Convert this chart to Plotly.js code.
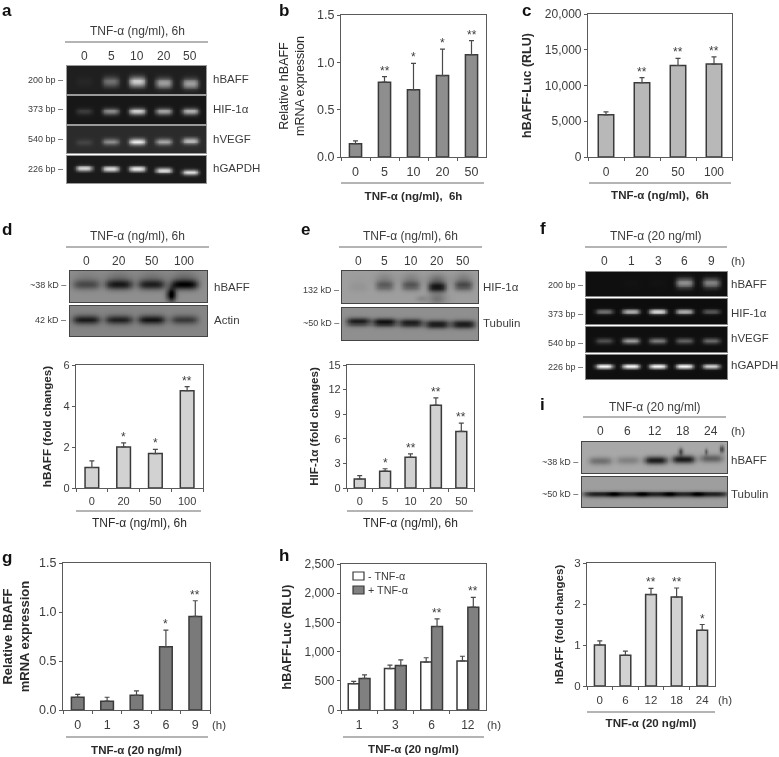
<!DOCTYPE html>
<html><head><meta charset="utf-8">
<script src="https://cdn.plot.ly/plotly-3.0.1.min.js"></script>
<style>html,body{margin:0;padding:0;background:#fff}#chart{width:779px;height:757px;filter:blur(0.45px)}</style>
</head><body><div id="chart"></div>
<script>
// ---------- bar chart data ----------
const bDoses = ['0','5','10','20','50'];
const bMrna = [0.14,0.79,0.71,0.86,1.08];
const bMrnaErr = [0.03,0.06,0.28,0.28,0.15];
const bStars = ['','**','*','*','**'];

const cDoses = ['0','20','50','100'];
const cLuc = [5900,10400,12800,13000];
const cLucErr = [400,700,1000,1000];
const cStars = ['','**','**','**'];

const dDoses = ['0','20','50','100'];
const dFold = [1.0,2.0,1.68,4.75];
const dFoldErr = [0.32,0.2,0.2,0.2];
const dStars = ['','*','*','**'];

const eDoses = ['0','5','10','20','50'];
const eFold = [1.1,2.05,3.75,10.1,6.9];
const eFoldErr = [0.4,0.3,0.4,0.9,1.0];
const eStars = ['','*','**','**','**'];

const gHours = ['0','1','3','6','9'];
const gMrna = [0.13,0.09,0.15,0.645,0.955];
const gMrnaErr = [0.03,0.04,0.045,0.17,0.16];
const gStars = ['','','','*','**'];

const hHours = ['1','3','6','12'];
const hControl = [450,710,820,840];
const hControlErr = [40,60,75,80];
const hTnf = [540,760,1430,1760];
const hTnfErr = [60,100,130,170];
const hStars = ['','','**','**'];
const hNames = ['- TNF-α','+ TNF-α'];

const iHours = ['0','6','12','18','24'];
const iFold = [1.0,0.75,2.23,2.17,1.36];
const iFoldErr = [0.1,0.1,0.15,0.22,0.14];
const iStars = ['','','**','**','*'];

// ---------- gel band strengths per lane ----------
const aBaff = [0.03,0.32,0.68,0.5,0.5];
const aHif = [0.14,0.45,0.72,0.55,0.6];
const aVegf = [0.1,0.38,0.75,0.48,0.55];
const aGapdh = [0.72,0.75,0.8,0.75,0.8];
const dBaff = [-0.25,-0.42,-0.4,-0.5];
const dActin = [-0.42,-0.4,-0.45,-0.3];
const eHif = [-0.03,-0.22,-0.24,-0.44,-0.28];
const eTub = [-0.45,-0.5,-0.45,-0.45,-0.45];
const fBaff = [0,0.01,0.01,0.5,0.45];
const fHif = [0.38,0.62,0.78,0.62,0.28];
const fVegf = [0.25,0.55,0.42,0.32,0.35];
const fGapdh = [0.93,0.93,0.93,0.93,0.78];
const iBaff = [-0.22,-0.15,-0.55,-0.55,-0.28];
const iTub = [-0.5,-0.48,-0.5,-0.48,-0.5];

// ---------- page geometry ----------
const W = 779, H = 757;
const FONT = '"Liberation Sans", Arial, sans-serif';
const INK = '#3c3c3c', FRAME = '#5a5a5a';
const fx = p => p / W, fy = p => 1 - p / H;

const data = [], annotations = [], shapes = [];
const layout = {
  width: W, height: H, margin: {l:0,r:0,t:0,b:0, pad:0},
  paper_bgcolor: '#fff', plot_bgcolor: '#fff',
  font: {family: FONT, color: INK}, showlegend: false,
  barmode: 'group', bargap: 0.4, annotations, shapes
};
let axisCount = 0;
function newAxes() {
  axisCount++;
  const s = axisCount === 1 ? '' : axisCount;
  return {xa:'xaxis'+s, ya:'yaxis'+s, x:'x'+s, y:'y'+s};
}
function label(x, y, text, size, opts) {
  const anchor = opts && opts.xanchor;
  const px = anchor === 'left' ? x - 2 : anchor === 'right' ? x + 1 : x;
  annotations.push(Object.assign({xref:'paper', yref:'paper', x:fx(px), y:fy(y), text,
    showarrow:false, xanchor:'center', yanchor:'middle', align:'center',
    font:{size, color:INK, family:FONT}}, opts||{}));
}
function rule(x0, x1, y) {
  shapes.push({type:'line', xref:'paper', yref:'paper', x0:fx(x0), x1:fx(x1), y0:fy(y), y1:fy(y),
    line:{color:'#6a6a6a', width:1.2}});
}
function swatch(x0, x1, y0, y1, color) {
  shapes.push({type:'rect', xref:'paper', yref:'paper', x0:fx(x0), x1:fx(x1), y0:fy(y1), y1:fy(y0),
    fillcolor:color, line:{color:'#3a3a3a', width:1.2}});
}

// Draws one gel strip as a smoothed heatmap from the lane strengths.
function gel(box, lanes, levels, o) {
  const a = newAxes();
  const step = (lanes[lanes.length-1]-lanes[0])/(lanes.length-1);
  const xr = [(box[0]-lanes[0])/step, (box[1]-lanes[0])/step];
  const cols = 90, rows = 32, xs = [], ys = [], z = [];
  for (let i=0;i<cols;i++) xs.push(xr[0]+(xr[1]-xr[0])*i/(cols-1));
  for (let j=0;j<rows;j++) ys.push(j/(rows-1));
  const extra = o.extra || [];
  ys.forEach(y => {
    z.push(xs.map(x => {
      let v = o.bg;
      levels.forEach((lv,k) => {
        const c = Array.isArray(o.yc) ? o.yc[k] : o.yc;
        const dx = (x-k)/(o.w||0.33), dy = (y-c)/o.h;
        v += lv*Math.exp(-dx*dx*dx*dx)*Math.exp(-dy*dy);
        if (o.halo) { const hy=(y-c+o.h*1.4)/(o.h*1.6); v += lv*o.halo*Math.exp(-dx*dx)*Math.exp(-hy*hy); }
      });
      extra.forEach(b => {
        const dx=(x-b[0])/b[1], dy=(y-b[2])/b[3];
        v += b[4]*Math.exp(-dx*dx-dy*dy);
      });
      return Math.max(0,Math.min(1,v));
    }));
  });
  data.push({type:'heatmap', x:xs, y:ys, z, xaxis:a.x, yaxis:a.y, zmin:0, zmax:1,
    zsmooth:'best', showscale:false, hoverinfo:'skip',
    colorscale:[[0,'#000'],[1,'#fff']]});
  const ax = {anchor:a.y, domain:[fx(box[0]),fx(box[1])], range:xr, showgrid:false, zeroline:false,
    showticklabels:false, ticks:'', showline:true, mirror:true, linecolor:o.frame, linewidth:1.2};
  const ay = {anchor:a.x, domain:[fy(box[3]),fy(box[2])], range:[1,0], showgrid:false, zeroline:false,
    showticklabels:false, ticks:'', showline:true, mirror:true, linecolor:o.frame, linewidth:1.2};
  layout[a.xa]=ax; layout[a.ya]=ay;
}

// Draws one bar panel.
function barPanel(p) {
  const a = newAxes();
  (p.series).forEach(s => {
    const t = {type:'bar', x:p.cats, y:s.y, xaxis:a.x, yaxis:a.y, name:s.name,
      marker:{color:s.color, line:{color:'#3a3a3a', width:1.5}},
      error_y:{type:'data', symmetric:false, array:s.err, arrayminus:s.err.map(()=>0),
        color:'#4a4a4a', thickness:1.2, width:p.capw||2.5}, hoverinfo:'skip',
      showlegend:false};
    if (!p.grouped) t.width = p.bw;
    data.push(t);
  });
  const starSeries = p.series[p.series.length-1];
  p.stars.forEach((st,k) => {
    if (!st) return;
    annotations.push({xref:a.x, yref:a.y, x:k, y:starSeries.y[k]+starSeries.err[k], text:st,
      showarrow:false, yanchor:'bottom', xanchor:'center', xshift:p.starShift||0, yshift:-3,
      font:{size:12, color:INK, family:FONT}});
  });
  layout[a.xa] = {anchor:a.y, domain:[fx(p.box[0]),fx(p.box[1])], type:'category', categoryorder:'array',
    categoryarray:p.cats, range:[-0.5,p.cats.length-0.5], tickangle:0, ticklabelstandoff:3,
    tickson:'boundaries', ticks:'outside', ticklen:3, tickwidth:1, tickcolor:FRAME,
    showline:true, mirror:true, linecolor:FRAME, linewidth:1.2, showgrid:false, zeroline:false,
    tickfont:{size:p.tick||12.5, color:INK, family:FONT},
    title:{text:p.xtitle, standoff:p.xstand||13, font:{size:p.xsize||11.5, color:'#2a2a2a', family:FONT}}};
  layout[a.ya] = {anchor:a.x, domain:[fy(p.box[3]),fy(p.box[2])], range:p.yrange, dtick:p.dtick,
    tickformat:p.yfmt||'', ticks:'outside', ticklen:3, tickwidth:1, tickcolor:FRAME,
    showline:true, mirror:true, linecolor:FRAME, linewidth:1.2, showgrid:false, zeroline:false,
    tickfont:{size:p.tick||12.5, color:INK, family:FONT},
    title:{text:p.ytitle, standoff:p.ystand||6, font:{size:p.ysize||12.5, color:'#2a2a2a', family:FONT}}};
}

// ---------- panel a ----------
const aLanes = [84,111,137,164,190];
gel([67,206,66,94], aLanes, aBaff, {bg:.12, yc:[.55,.55,.55,.6,.62], h:.18, w:.31, frame:'#9a9a9a'});
gel([67,206,96,124], aLanes, aHif, {bg:.09, yc:.54, h:.12, w:.31, frame:'#9a9a9a'});
gel([67,206,126,153], aLanes, aVegf, {bg:.17, yc:[.6,.58,.58,.58,.55], h:.12, w:.31, frame:'#9a9a9a'});
gel([67,206,156,183], aLanes, aGapdh, {bg:.1, yc:[.45,.47,.47,.53,.6], h:.1, w:.31, frame:'#9a9a9a'});
label(137,31,'TNF-α (ng/ml), 6h',12); rule(65,208,42);
aLanes.forEach((x,i)=>label(x,56,bDoses[i],12));
[['200 bp –',80],['373 bp –',109],['540 bp –',139],['226 bp –',169]].forEach(r=>label(64,r[1],r[0],9,{xanchor:'right'}));
[['hBAFF',79],['HIF-1α',109],['hVEGF',139],['hGAPDH',168]].forEach(r=>label(213,r[1],r[0],11.5,{xanchor:'left'}));

// ---------- panel b ----------
barPanel({box:[341,486,15,157], cats:bDoses, bw:.42, yrange:[0,1.5], dtick:.5, yfmt:'.1f',
  series:[{y:bMrna, err:bMrnaErr, color:'#8e8e8e'}], stars:bStars,
  ytitle:'Relative hBAFF<br>mRNA expression', xtitle:'<b>TNF-α (ng/ml),  6h</b>', xstand:13, ystand:9});
rule(341,484,183);

// ---------- panel c ----------
barPanel({box:[588,732,14,157], cats:cDoses, bw:.43, yrange:[0,20000], dtick:5000, yfmt:',d', tick:12,
  series:[{y:cLuc, err:cLucErr, color:'#b8b8b8'}], stars:cStars,
  ytitle:'<b>hBAFF-Luc (RLU)</b>', xtitle:'<b>TNF-α (ng/ml),  6h</b>', xstand:13, ystand:10});
rule(589,731,183);

// ---------- panel d ----------
const dLanes = [86,119,152,184];
gel([70,207,271,302], dLanes, dBaff, {bg:.56, yc:.43, h:.16, w:.42, frame:'#444', halo:.25,
  extra:[[2.6,.14,.75,.22,-.6]]});
gel([70,207,306,336], dLanes, dActin, {bg:.52, yc:.45, h:.16, w:.42, frame:'#444'});
label(137,236,'TNF-α (ng/ml), 6h',12); rule(66,209,247);
dLanes.forEach((x,i)=>label(x,261,dDoses[i],12));
label(67,285,'~38 kD –',9,{xanchor:'right'}); label(67,320,'42 kD –',9,{xanchor:'right'});
label(214,287,'hBAFF',11.5,{xanchor:'left'}); label(214,320,'Actin',11.5,{xanchor:'left'});
barPanel({box:[76,203,365,488], cats:dDoses, bw:.43, yrange:[0,6], dtick:2, tick:11,
  series:[{y:dFold, err:dFoldErr, color:'#d2d2d2'}], stars:dStars,
  ytitle:'<b>hBAFF (fold changes)</b>', ysize:11.7, xtitle:'TNF-α (ng/ml), 6h', xsize:12, xstand:12, ystand:9});
rule(76,201,511);

// ---------- panel e ----------
const eLanes = [358,384,411,437,463];
gel([342,478,271,303], eLanes, eHif, {bg:.62, yc:[.5,.45,.45,.5,.45], h:.14, w:.36, frame:'#444', halo:.45,
  extra:[[3,.35,.85,.2,-.16],[2.4,.2,.85,.1,-.08]]});
gel([342,478,308,340], eLanes, eTub, {bg:.56, yc:[.42,.44,.46,.5,.5], h:.12, w:.46, frame:'#444'});
label(410,236,'TNF-α (ng/ml), 6h',12); rule(339,482,247);
eLanes.forEach((x,i)=>label(x,261,eDoses[i],12));
label(340,290,'132 kD –',9,{xanchor:'right'}); label(340,323,'~50 kD –',9,{xanchor:'right'});
label(483,287,'HIF-1α',11.5,{xanchor:'left'}); label(483,323,'Tubulin',11.5,{xanchor:'left'});
barPanel({box:[347,474,365,488], cats:eDoses, bw:.43, yrange:[0,15], dtick:3, tick:11,
  series:[{y:eFold, err:eFoldErr, color:'#d2d2d2'}], stars:eStars,
  ytitle:'<b>HIF-1α (fold changes)</b>', ysize:11.6, xtitle:'TNF-α (ng/ml), 6h', xsize:12, xstand:12, ystand:7});
rule(347,473,511);

// ---------- panel f ----------
const fLanes = [604,631,658,684,711];
gel([586,727,272,296], fLanes, fBaff, {bg:.06, yc:.45, h:.2, frame:'#888'});
gel([586,727,299,324], fLanes, fHif, {bg:.05, yc:.5, h:.1, frame:'#888'});
gel([586,727,327,352], fLanes, fVegf, {bg:.06, yc:.55, h:.11, frame:'#888'});
gel([586,727,355,379], fLanes, fGapdh, {bg:.06, yc:.47, h:.1, frame:'#888'});
label(656,236,'TNF-α (20 ng/ml)',12); rule(585,727,247);
fLanes.forEach((x,i)=>label(x,261,gHours[i],12));
label(731,261,'(h)',11.5,{xanchor:'left'});
[['200 bp –',285],['373 bp –',314],['540 bp –',343],['226 bp –',367]].forEach(r=>label(584,r[1],r[0],9,{xanchor:'right'}));
[['hBAFF',284],['HIF-1α',313],['hVEGF',338],['hGAPDH',365]].forEach(r=>label(731,r[1],r[0],11.5,{xanchor:'left'}));

// ---------- panel i ----------
const iLanes = [600,627,655,683,711];
gel([582,727,442,473], iLanes, iBaff, {bg:.66, yc:[.6,.58,.58,.55,.52], h:.13, w:.42, frame:'#444',
  extra:[[2.9,.08,.3,.12,-.4],[4.38,.08,.22,.12,-.4],[3.82,.06,.3,.1,-.3]]});
gel([582,727,477,507], iLanes, iTub, {bg:.62, yc:.57, h:.1, w:.62, frame:'#444'});
label(655,407,'TNF-α (20 ng/ml)',12); rule(583,726,417);
iLanes.forEach((x,i)=>label(x,431,iHours[i],12));
label(731,431,'(h)',11.5,{xanchor:'left'});
label(579,462,'~38 kD –',9,{xanchor:'right'}); label(579,494,'~50 kD –',9,{xanchor:'right'});
label(731,460,'hBAFF',11.5,{xanchor:'left'}); label(731,494,'Tubulin',11.5,{xanchor:'left'});
barPanel({box:[587,715,563,686], cats:iHours, bw:.42, yrange:[0,3], dtick:1, tick:11.5,
  series:[{y:iFold, err:iFoldErr, color:'#d2d2d2'}], stars:iStars,
  ytitle:'<b>hBAFF (fold changes)</b>', ysize:11.5, xtitle:'<b>TNF-α (20 ng/ml)</b>', xstand:14, ystand:8});
rule(587,715,712);
label(718,700,'(h)',11.5,{xanchor:'left'});

// ---------- panel g ----------
barPanel({box:[63,210,563,710], cats:gHours, bw:.43, yrange:[0,1.5], dtick:.5, yfmt:'.1f',
  series:[{y:gMrna, err:gMrnaErr, color:'#7a7a7a'}], stars:gStars,
  ytitle:'<b>Relative hBAFF<br>mRNA expression</b>', ysize:13, xtitle:'<b>TNF-α (20 ng/ml)</b>', xstand:14, ystand:8});
rule(66,208,737);
label(212,725,'(h)',11.5,{xanchor:'left'});

// ---------- panel h ----------
barPanel({box:[341,486,564,710], cats:hHours, grouped:true, yrange:[0,2500], dtick:500, yfmt:',d', tick:12, starShift:5.5,
  series:[{y:hControl, err:hControlErr, color:'#ffffff'},
          {y:hTnf, err:hTnfErr, color:'#808080'}], stars:hStars,
  ytitle:'<b>hBAFF-Luc (RLU)</b>', xtitle:'<b>TNF-α (20 ng/ml)</b>', xstand:14, ystand:10});
rule(343,484,737);
label(487,725,'(h)',11.5,{xanchor:'left'});
// legend key of panel h
swatch(353,364,572,580,'#ffffff'); swatch(353,364,586,594,'#808080');
label(369,576,hNames[0],10.8,{xanchor:'left', borderpad:0});
label(369,590,hNames[1],10.8,{xanchor:'left', borderpad:0});

// ---------- panel letters ----------
[['a',7,10],['b',284,10],['c',526,10],['d',7,229],['e',305,229],['f',543,228],['g',7,557],['h',284,555],['i',542,405]]
  .forEach(r=>label(r[1],r[2],'<b>'+r[0]+'</b>',17,{font:{size:17,color:'#111',family:FONT}}));

Plotly.newPlot('chart', data, layout, {displayModeBar:false, responsive:false});
</script></body></html>
